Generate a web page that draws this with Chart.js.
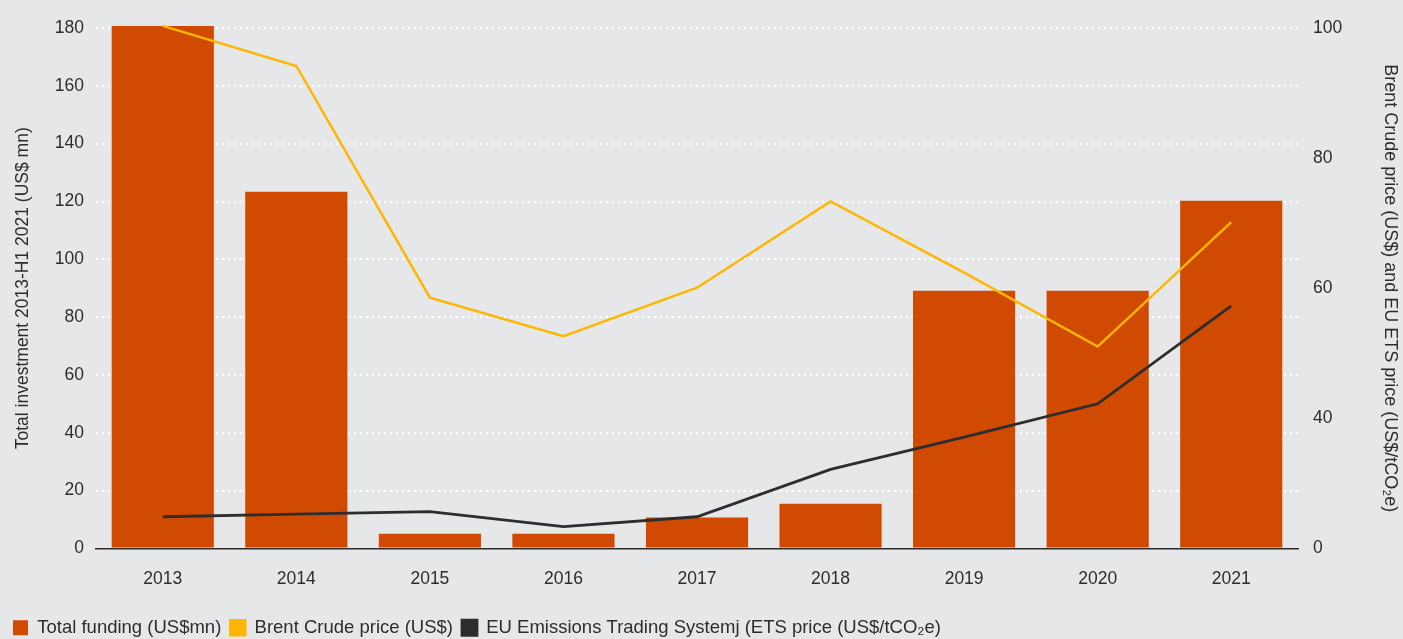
<!DOCTYPE html>
<html lang="en">
<head>
    <meta charset="UTF-8">
    <title>Funding vs Brent and EU ETS prices</title>
    <script src="https://cdn.jsdelivr.net/npm/chart.js"></script>
    <style>
        html, body {
            margin: 0;
            padding: 0;
            background: #e6e7e8;
        }
        #wrap {
            width: 1403px;
            height: 639px;
        }
    </style>
</head>
<body>
    <div id="wrap"><canvas id="fundingChart"></canvas></div>
    <script>
        const years = ['2013', '2014', '2015', '2016', '2017', '2018', '2019', '2020', '2021'];
        const totalFunding = [180.7, 123.4, 5.1, 5.1, 10.7, 15.5, 89.1, 89.1, 120.3];
        const brentPrice = [100.4, 92.7, 48.2, 40.8, 50.1, 66.7, 53.0, 38.8, 62.7];
        const etsPrice = [6.1, 6.6, 7.1, 4.2, 6.1, 15.2, 21.4, 27.8, 46.6];

        const leftTicks = [0, 20, 40, 60, 80, 100, 120, 140, 160, 180];
        const rightTickValues = [0, 25, 50, 75, 100];
        const rightTickLabels = ['0', '40', '60', '80', '100'];

        Chart.defaults.font.family = 'Arial, "Liberation Sans", sans-serif';
        Chart.defaults.font.size = 17.5;
        Chart.defaults.color = '#2d2d2d';

        const ctx = document.getElementById('fundingChart').getContext('2d');
        new Chart(ctx, {
            data: {
                labels: years,
                datasets: [
                    {
                        type: 'bar',
                        label: 'Total funding (US$mn)',
                        data: totalFunding,
                        backgroundColor: '#d04a02',
                        yAxisID: 'y',
                        categoryPercentage: 1,
                        barPercentage: 0.765,
                        clip: false,
                        order: 3
                    },
                    {
                        type: 'line',
                        label: 'Brent Crude price (US$)',
                        data: brentPrice,
                        borderColor: '#ffb600',
                        backgroundColor: '#ffb600',
                        borderWidth: 2.5,
                        pointRadius: 0,
                        tension: 0,
                        yAxisID: 'y1',
                        clip: false,
                        order: 2
                    },
                    {
                        type: 'line',
                        label: 'EU Emissions Trading Systemj (ETS price (US$/tCO\u2082e)',
                        data: etsPrice,
                        borderColor: '#2d2d2d',
                        backgroundColor: '#2d2d2d',
                        borderWidth: 2.8,
                        pointRadius: 0,
                        tension: 0,
                        yAxisID: 'y1',
                        clip: false,
                        order: 1
                    }
                ]
            },
            options: {
                responsive: true,
                maintainAspectRatio: false,
                animation: false,
                layout: {
                    padding: { left: 4, right: 2, top: 28, bottom: -8 }
                },
                plugins: {
                    legend: {
                        position: 'bottom',
                        align: 'start',
                        labels: {
                            boxWidth: 15,
                            boxHeight: 15,
                            padding: 9,
                            color: '#2d2d2d',
                            font: { size: 18.5 },
                            sort: (a, b) => a.datasetIndex - b.datasetIndex
                        }
                    },
                    tooltip: { enabled: false }
                },
                scales: {
                    x: {
                        grid: { display: false, drawTicks: false },
                        border: { display: true, color: '#2d2d2d', width: 1.5 },
                        ticks: { padding: 20 }
                    },
                    y: {
                        position: 'left',
                        min: 0,
                        max: 180,
                        afterBuildTicks: scale => {
                            scale.ticks = leftTicks.map(v => ({ value: v }));
                        },
                        afterFit: scale => { scale.width = 92; },
                        grid: {
                            color: c => c.tick.value === 0 ? 'rgba(0,0,0,0)' : '#ffffff',
                            lineWidth: 2,
                            drawTicks: false
                        },
                        border: { display: false, dash: [2, 4] },
                        ticks: { padding: 12 },
                        title: {
                            display: true,
                            text: 'Total investment 2013-H1 2021 (US$ mn)',
                            padding: { top: 9, bottom: 0 }
                        }
                    },
                    y1: {
                        position: 'right',
                        min: 0,
                        max: 100,
                        afterBuildTicks: scale => {
                            scale.ticks = rightTickValues.map(v => ({ value: v }));
                        },
                        afterFit: scale => { scale.width = 103; },
                        grid: { display: false, drawTicks: false },
                        border: { display: false },
                        ticks: {
                            padding: 15,
                            callback: (value, index) => rightTickLabels[index]
                        },
                        title: {
                            display: true,
                            text: 'Brent Crude price (US$) and EU ETS price (US$/tCO\u2082e)',
                            font: { size: 18 },
                            padding: { top: 0, bottom: 0 }
                        }
                    }
                }
            }
        });
    </script>
</body>
</html>
